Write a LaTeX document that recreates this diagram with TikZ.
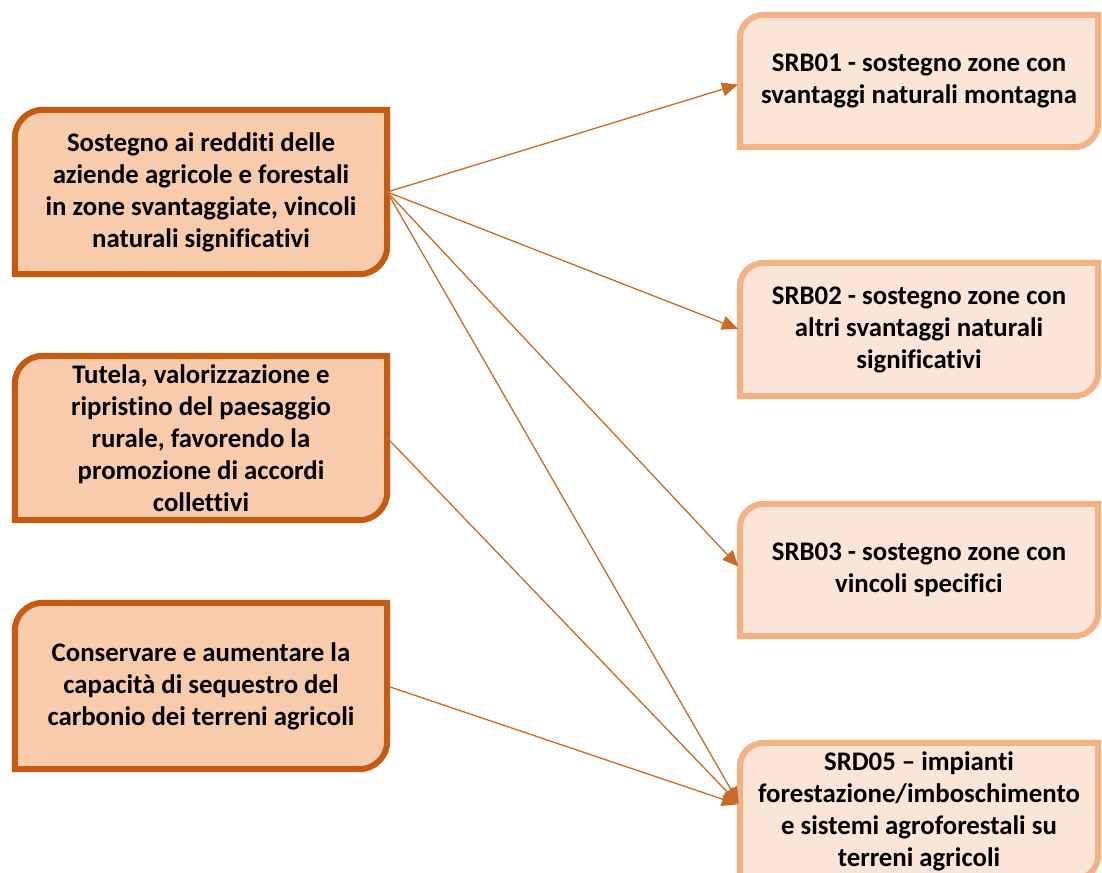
\documentclass[tikz,border=0pt]{standalone}
\usepackage{fontspec}
\setmainfont{Carlito}[Ligatures=NoCommon]
\usetikzlibrary{arrows.meta,backgrounds}
\definecolor{rustline}{HTML}{C55A11}
\definecolor{peachfill}{HTML}{F8CBAD}
\definecolor{apricotline}{HTML}{F4B183}
\definecolor{creamfill}{HTML}{FBE5D6}
\tikzset{
  leftbox/.style={draw=rustline, fill=peachfill, line width=6pt},
  rightbox/.style={draw=apricotline, fill=creamfill, line width=6pt},
  boxtext/.style={align=center, inner sep=0pt, font=\fontsize{26.8}{32}\selectfont\bfseries},
  goalsize/.style={minimum width=372pt, minimum height=164pt},
  actsize/.style={minimum width=358pt, minimum height=132pt},
  fwd/.style={-{Triangle[length=16pt,width=14pt]}, rustline!90, line width=1.3pt, shorten >=2pt},
}

\begin{document}
\begin{tikzpicture}[x=1pt,y=-1pt]
\useasboundingbox (0,0) rectangle (1102,872);

%Nodes
\node[boxtext, goalsize] (goal1) at (201,192) {Sostegno ai redditi delle\\aziende agricole e forestali\\in zone svantaggiate, vincoli\\naturali significativi};
\node[boxtext, goalsize] (goal2) at (201,438) {Tutela, valorizzazione e\\ripristino del paesaggio\\rurale, favorendo la\\promozione di accordi\\collettivi};
\node[boxtext, goalsize, minimum height=166pt] (goal3) at (201,686) {Conservare e aumentare la\\capacità di sequestro del\\carbonio dei terreni agricoli};

\node[boxtext, actsize] (srb01) at (919,81) {SRB01 - sostegno zone con\\svantaggi naturali montagna};
\node[boxtext, actsize, minimum height=133pt] (srb02) at (919,329.5) {SRB02 - sostegno zone con\\altri svantaggi naturali\\significativi};
\node[boxtext, actsize] (srb03) at (919,570) {SRB03 - sostegno zone con\\vincoli specifici};
\node[boxtext, actsize, minimum height=136pt] (srd05) at (919,811) {SRD05 – impianti\\forestazione/imboschimento\\e sistemi agroforestali su\\terreni agricoli};

%Frames
\begin{scope}[on background layer]
\foreach \n/\s/\rad in {goal1/leftbox/28pt, goal2/leftbox/28pt, goal3/leftbox/28pt,
    srb01/rightbox/24pt, srb02/rightbox/24pt, srb03/rightbox/24pt, srd05/rightbox/24pt}
  \draw[\s] (\n.south west) -- ([yshift=-\rad]\n.north west)
    arc[start angle=180, end angle=90, radius=\rad] -- (\n.north east)
    -- ([yshift=\rad]\n.south east)
    arc[start angle=0, end angle=-90, radius=\rad] -- cycle;
\end{scope}

%Lines
\draw[fwd] (goal1.east) -- ([yshift=-3pt]srb01.west);
\draw[fwd] (goal1.east) -- (srb02.west);
\draw[fwd] (goal1.east) -- ([yshift=2pt]srb03.west);
\draw[fwd] (goal1.east) -- ([yshift=6pt]srd05.west);
\draw[fwd] (goal2.east) -- ([yshift=6pt]srd05.west);
\draw[fwd] (goal3.east) -- ([yshift=6pt]srd05.west);
\end{tikzpicture}
\end{document}
